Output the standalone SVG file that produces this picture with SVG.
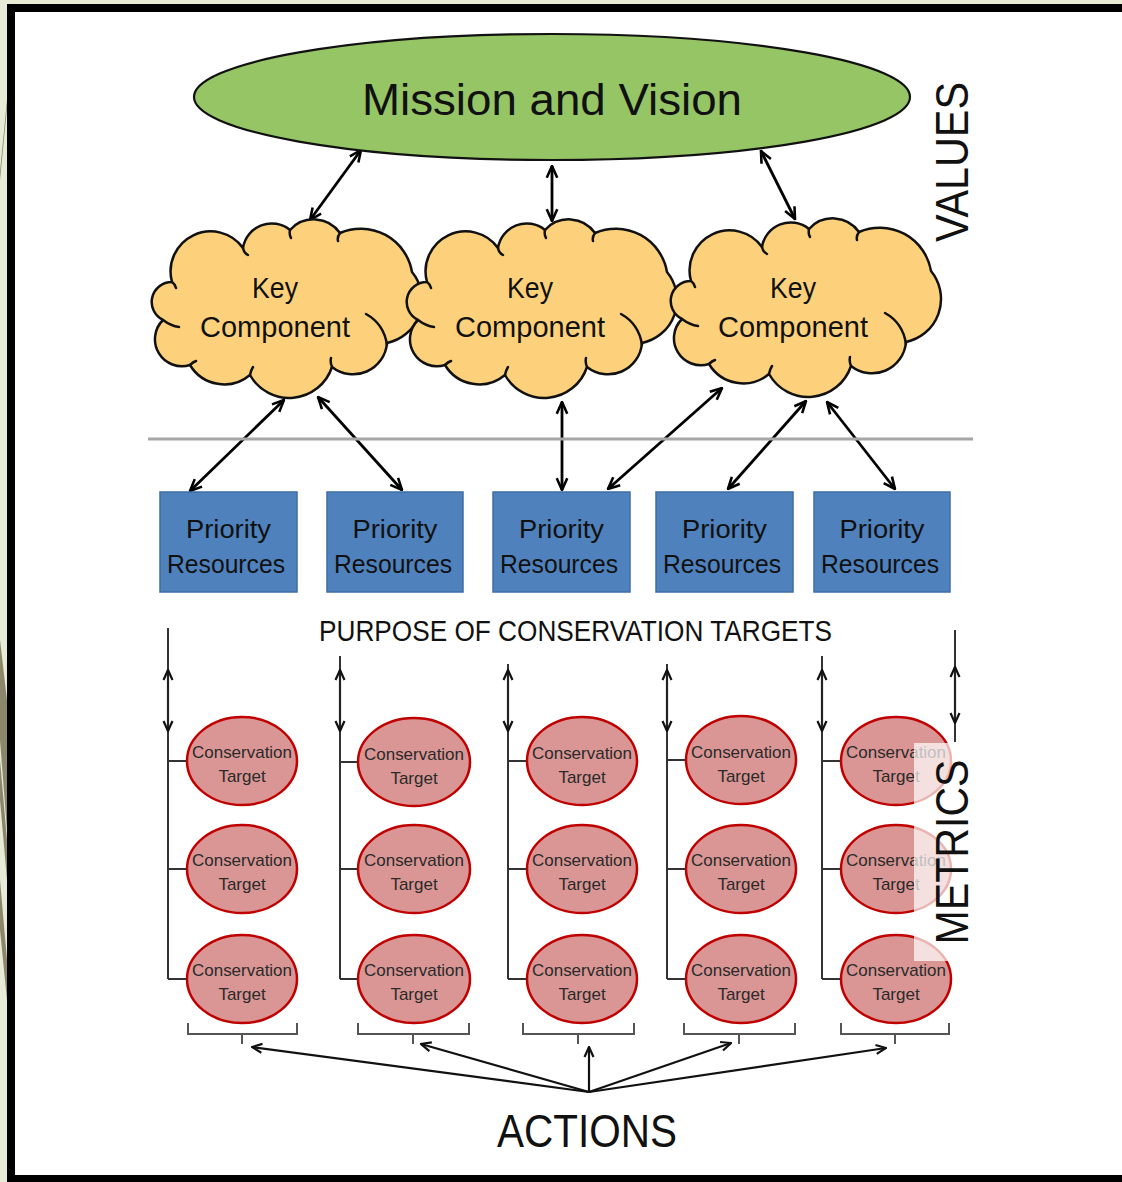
<svg xmlns="http://www.w3.org/2000/svg" width="1122" height="1182" viewBox="0 0 1122 1182">
<defs>
<style>
.t{font-family:"Liberation Sans",Arial,sans-serif;fill:#111;text-anchor:middle}
.cloud{fill:#fdd17c;stroke:#111;stroke-width:2.5;stroke-linejoin:round}
.inner{fill:none;stroke:#111;stroke-width:2.5;stroke-linecap:round}
.pr{fill:#4f81bd;stroke:#3d6ea6;stroke-width:1.5}
.ct{fill:#d99694;stroke:#c00000;stroke-width:2.5}
.ctt{font-family:"Liberation Sans",Arial,sans-serif;font-size:17px;fill:#2a2a2a;text-anchor:middle}
.arr{stroke:#000;stroke-width:2.8;fill:none;marker-start:url(#ah);marker-end:url(#ah)}
.col{stroke:#333;stroke-width:2;fill:none}
.carr{stroke:#222;stroke-width:2.2;fill:none;marker-start:url(#ahs);marker-end:url(#ahs)}
.brk{stroke:#555;stroke-width:2;fill:none}
.act{stroke:#111;stroke-width:2.2;fill:none;marker-end:url(#ahs)}
</style>
<marker id="ah" viewBox="0 0 12 12" refX="11" refY="6" markerWidth="14" markerHeight="14" markerUnits="userSpaceOnUse" orient="auto-start-reverse"><path d="M1,1.5 L11,6 L1,10.5" fill="none" stroke="#000" stroke-width="2.2"/></marker>
<marker id="ahs" viewBox="0 0 12 12" refX="11" refY="6" markerWidth="12" markerHeight="12" markerUnits="userSpaceOnUse" orient="auto-start-reverse"><path d="M1,1.5 L11,6 L1,10.5" fill="none" stroke="#111" stroke-width="2.2"/></marker>
<path id="cloudOut" d="M172,282 A40,40 0 0 1 243,248 A29,29 0 0 1 290,230 A32,32 0 0 1 340,233 A52,52 0 0 1 412,272 A44,44 0 0 1 387,343 A34,34 0 0 1 332,367 A45,45 0 0 1 250,375 A40,40 0 0 1 190,365 A27,27 0 0 1 163,320 A20,20 0 0 1 172,282 Z"/>
<path id="cloudIn" d="M366,314 Q384,324 387,345 M163,320 Q171,326 179,327 M243,248 q1,5 5,7 M290,230 q-1,5 1,8 M340,233 q-3,4 -2,8 M332,367 q-2,-5 -1,-9 M250,375 q1,-5 3,-8 M190,365 q3,-3 6,-4 M172,282 q3,2 4,6"/>
</defs>

<g id="background">
<rect x="0" y="0" width="1122" height="1182" fill="#e8ebd5"/>
<g fill="#766f50" opacity="0.8">
<polygon points="0,172 7,100 7,108 0,180"/>
<polygon points="0,640 7,700 7,830 0,740"/>
<polygon points="0,760 7,840 7,880 0,800"/>
<polygon points="0,880 7,960 7,1000 0,930"/>
</g>
<rect x="7" y="4" width="1115" height="1178" fill="#000"/>
<rect x="15" y="12" width="1107" height="1163" fill="#fff"/>
</g>

<g id="connectors">
<line class="arr" x1="361" y1="150" x2="310" y2="220"/>
<line class="arr" x1="552" y1="166" x2="552" y2="221"/>
<line class="arr" x1="761" y1="151" x2="795" y2="219"/>
<line class="arr" x1="284" y1="400" x2="190" y2="491"/>
<line class="arr" x1="318" y1="397" x2="402" y2="490"/>
<line class="arr" x1="562" y1="402" x2="562" y2="490"/>
<line class="arr" x1="722" y1="388" x2="608" y2="489"/>
<line class="arr" x1="806" y1="401" x2="728" y2="489"/>
<line class="arr" x1="827" y1="402" x2="895" y2="489"/>
<line x1="148" y1="439" x2="973" y2="439" stroke="#a6a6a6" stroke-width="3"/>
<path class="col" d="M168,628 V979 M168,761 H187 M168,869 H187 M168,979 H187"/>
<path class="col" d="M340,656 V979 M340,762 H358 M340,869 H358 M340,979 H358"/>
<path class="col" d="M508,664 V979 M508,761 H527 M508,869 H527 M508,979 H527"/>
<path class="col" d="M667,664 V979 M667,760 H686 M667,869 H686 M667,979 H686"/>
<path class="col" d="M822,656 V979 M822,761 H841 M822,869 H841 M822,979 H841"/>
<line class="col" x1="955" y1="630" x2="955" y2="742"/>
<line class="carr" x1="168" y1="670" x2="168" y2="731"/>
<line class="carr" x1="340" y1="670" x2="340" y2="731"/>
<line class="carr" x1="508" y1="670" x2="508" y2="731"/>
<line class="carr" x1="667" y1="670" x2="667" y2="731"/>
<line class="carr" x1="822" y1="670" x2="822" y2="731"/>
<line class="carr" x1="955" y1="667" x2="955" y2="723"/>
<path class="brk" d="M188,1023 V1034 H297 V1023 M242,1034 V1044"/>
<path class="brk" d="M358,1023 V1034 H469 V1023 M413,1034 V1044"/>
<path class="brk" d="M523,1023 V1034 H634 V1023 M578,1034 V1044"/>
<path class="brk" d="M684,1023 V1034 H795 V1023 M739,1034 V1044"/>
<path class="brk" d="M841,1023 V1034 H949 V1023 M895,1034 V1044"/>
<line class="act" x1="589" y1="1092" x2="252" y2="1047"/>
<line class="act" x1="589" y1="1092" x2="421" y2="1044"/>
<line class="act" x1="589" y1="1092" x2="589" y2="1047"/>
<line class="act" x1="589" y1="1092" x2="731" y2="1043"/>
<line class="act" x1="589" y1="1092" x2="886" y2="1048"/>
</g>

<g id="mission">
<ellipse cx="552" cy="97" rx="358" ry="63" fill="#96c566" stroke="#111" stroke-width="2.2"/>
<text class="t" x="552" y="115" font-size="45" textLength="380" lengthAdjust="spacingAndGlyphs">Mission and Vision</text>
</g>

<g id="cloud1">
<use href="#cloudOut" class="cloud"/>
<use href="#cloudIn" class="inner"/>
<text class="t" x="275" y="298" font-size="29" textLength="46" lengthAdjust="spacingAndGlyphs">Key</text>
<text class="t" x="275" y="337" font-size="29" textLength="150" lengthAdjust="spacingAndGlyphs">Component</text>
</g>
<g id="cloud2">
<use href="#cloudOut" class="cloud" transform="translate(255,0)"/>
<use href="#cloudIn" class="inner" transform="translate(255,0)"/>
<text class="t" x="530" y="298" font-size="29" textLength="46" lengthAdjust="spacingAndGlyphs">Key</text>
<text class="t" x="530" y="337" font-size="29" textLength="150" lengthAdjust="spacingAndGlyphs">Component</text>
</g>
<g id="cloud3">
<use href="#cloudOut" class="cloud" transform="translate(519,-1)"/>
<use href="#cloudIn" class="inner" transform="translate(519,-1)"/>
<text class="t" x="793" y="298" font-size="29" textLength="46" lengthAdjust="spacingAndGlyphs">Key</text>
<text class="t" x="793" y="337" font-size="29" textLength="150" lengthAdjust="spacingAndGlyphs">Component</text>
</g>

<g id="pr1"><rect class="pr" x="160" y="492" width="137" height="100"/><text class="t" x="228.5" y="538" font-size="25" textLength="85" lengthAdjust="spacingAndGlyphs">Priority</text><text class="t" x="226" y="573" font-size="25" textLength="118" lengthAdjust="spacingAndGlyphs">Resources</text></g>
<g id="pr2"><rect class="pr" x="327" y="492" width="136" height="100"/><text class="t" x="395" y="538" font-size="25" textLength="85" lengthAdjust="spacingAndGlyphs">Priority</text><text class="t" x="393" y="573" font-size="25" textLength="118" lengthAdjust="spacingAndGlyphs">Resources</text></g>
<g id="pr3"><rect class="pr" x="493" y="492" width="137" height="100"/><text class="t" x="561.5" y="538" font-size="25" textLength="85" lengthAdjust="spacingAndGlyphs">Priority</text><text class="t" x="559" y="573" font-size="25" textLength="118" lengthAdjust="spacingAndGlyphs">Resources</text></g>
<g id="pr4"><rect class="pr" x="656" y="492" width="137" height="100"/><text class="t" x="724.5" y="538" font-size="25" textLength="85" lengthAdjust="spacingAndGlyphs">Priority</text><text class="t" x="722" y="573" font-size="25" textLength="118" lengthAdjust="spacingAndGlyphs">Resources</text></g>
<g id="pr5"><rect class="pr" x="814" y="492" width="136" height="100"/><text class="t" x="882" y="538" font-size="25" textLength="85" lengthAdjust="spacingAndGlyphs">Priority</text><text class="t" x="880" y="573" font-size="25" textLength="118" lengthAdjust="spacingAndGlyphs">Resources</text></g>

<g id="label-purpose"><text class="t" x="575.5" y="641" font-size="29" textLength="513" lengthAdjust="spacingAndGlyphs">PURPOSE OF CONSERVATION TARGETS</text></g>

<g id="ct-1-1"><ellipse class="ct" cx="242" cy="761" rx="55" ry="44"/><text class="ctt" x="242" y="758" textLength="100" lengthAdjust="spacingAndGlyphs">Conservation</text><text class="ctt" x="242" y="782">Target</text></g>
<g id="ct-1-2"><ellipse class="ct" cx="242" cy="869" rx="55" ry="44"/><text class="ctt" x="242" y="866" textLength="100" lengthAdjust="spacingAndGlyphs">Conservation</text><text class="ctt" x="242" y="890">Target</text></g>
<g id="ct-1-3"><ellipse class="ct" cx="242" cy="979" rx="55" ry="44"/><text class="ctt" x="242" y="976" textLength="100" lengthAdjust="spacingAndGlyphs">Conservation</text><text class="ctt" x="242" y="1000">Target</text></g>
<g id="ct-2-1"><ellipse class="ct" cx="414" cy="762" rx="56" ry="44"/><text class="ctt" x="414" y="760" textLength="100" lengthAdjust="spacingAndGlyphs">Conservation</text><text class="ctt" x="414" y="784">Target</text></g>
<g id="ct-2-2"><ellipse class="ct" cx="414" cy="869" rx="56" ry="44"/><text class="ctt" x="414" y="866" textLength="100" lengthAdjust="spacingAndGlyphs">Conservation</text><text class="ctt" x="414" y="890">Target</text></g>
<g id="ct-2-3"><ellipse class="ct" cx="414" cy="979" rx="56" ry="44"/><text class="ctt" x="414" y="976" textLength="100" lengthAdjust="spacingAndGlyphs">Conservation</text><text class="ctt" x="414" y="1000">Target</text></g>
<g id="ct-3-1"><ellipse class="ct" cx="582" cy="761" rx="55" ry="44"/><text class="ctt" x="582" y="759" textLength="100" lengthAdjust="spacingAndGlyphs">Conservation</text><text class="ctt" x="582" y="783">Target</text></g>
<g id="ct-3-2"><ellipse class="ct" cx="582" cy="869" rx="55" ry="44"/><text class="ctt" x="582" y="866" textLength="100" lengthAdjust="spacingAndGlyphs">Conservation</text><text class="ctt" x="582" y="890">Target</text></g>
<g id="ct-3-3"><ellipse class="ct" cx="582" cy="979" rx="55" ry="44"/><text class="ctt" x="582" y="976" textLength="100" lengthAdjust="spacingAndGlyphs">Conservation</text><text class="ctt" x="582" y="1000">Target</text></g>
<g id="ct-4-1"><ellipse class="ct" cx="741" cy="760" rx="55" ry="44"/><text class="ctt" x="741" y="758" textLength="100" lengthAdjust="spacingAndGlyphs">Conservation</text><text class="ctt" x="741" y="782">Target</text></g>
<g id="ct-4-2"><ellipse class="ct" cx="741" cy="869" rx="55" ry="44"/><text class="ctt" x="741" y="866" textLength="100" lengthAdjust="spacingAndGlyphs">Conservation</text><text class="ctt" x="741" y="890">Target</text></g>
<g id="ct-4-3"><ellipse class="ct" cx="741" cy="979" rx="55" ry="44"/><text class="ctt" x="741" y="976" textLength="100" lengthAdjust="spacingAndGlyphs">Conservation</text><text class="ctt" x="741" y="1000">Target</text></g>
<g id="ct-5-1"><ellipse class="ct" cx="896" cy="761" rx="55" ry="44"/><text class="ctt" x="896" y="758" textLength="100" lengthAdjust="spacingAndGlyphs">Conservation</text><text class="ctt" x="896" y="782">Target</text></g>
<g id="ct-5-2"><ellipse class="ct" cx="896" cy="869" rx="55" ry="44"/><text class="ctt" x="896" y="866" textLength="100" lengthAdjust="spacingAndGlyphs">Conservation</text><text class="ctt" x="896" y="890">Target</text></g>
<g id="ct-5-3"><ellipse class="ct" cx="896" cy="979" rx="55" ry="44"/><text class="ctt" x="896" y="976" textLength="100" lengthAdjust="spacingAndGlyphs">Conservation</text><text class="ctt" x="896" y="1000">Target</text></g>

<g id="label-values"><text class="t" transform="translate(968,162) rotate(-90)" font-size="46" textLength="160" lengthAdjust="spacingAndGlyphs">VALUES</text></g>
<g id="label-metrics"><rect x="914" y="743" width="64" height="218" fill="#fff" opacity="0.7"/><text class="t" transform="translate(968,852) rotate(-90)" font-size="46" textLength="185" lengthAdjust="spacingAndGlyphs">METRICS</text></g>
<g id="label-actions"><text class="t" x="587" y="1147" font-size="47" textLength="180" lengthAdjust="spacingAndGlyphs">ACTIONS</text></g>
</svg>
